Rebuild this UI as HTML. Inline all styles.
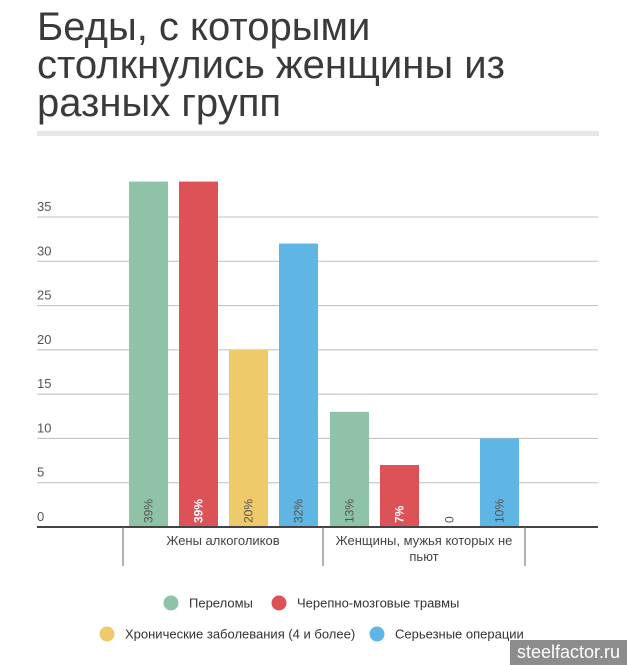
<!DOCTYPE html>
<html><head><meta charset="utf-8"><style>
body{margin:0;background:#fff;font-family:"Liberation Sans",sans-serif;}
#wrap{position:relative;width:627px;height:665px;overflow:hidden;}
h1{position:absolute;left:37px;top:8px;margin:0;font-weight:normal;font-size:40px;line-height:38px;color:#3a3a3a;width:590px;white-space:nowrap;}
#rule{position:absolute;left:37px;top:131px;width:562px;height:5px;background:#e6e6e6;}
#wm{position:absolute;left:510px;top:640px;width:117px;height:25px;background:#8c8c8c;color:#fff;font-size:18px;line-height:25px;text-align:center;}
</style></head><body>
<div id="wrap">
<h1>Беды, с которыми<br>столкнулись женщины из<br>разных групп</h1>
<div id="rule"></div>
<svg id="svg" width="627" height="665" style="position:absolute;left:0;top:0"></svg>
<div id="wm">steelfactor.ru</div>
</div>
<script>
const categories=["Жены алкоголиков","Женщины, мужья которых не|пьют"];
const seriesNames=["Переломы","Черепно-мозговые травмы","Хронические заболевания (4 и более)","Серьезные операции"];
const seriesColors=["#8fc3a8","#dc5257","#eeca6a","#5fb5e3"];
const valuesPerelomy=[39,13];
const valuesTravmy=[39,7];
const valuesHron=[20,0];
const valuesOper=[32,10];
const yTicks=[0,5,10,15,20,25,30,35];
const series=[valuesPerelomy,valuesTravmy,valuesHron,valuesOper];
const NS="http://www.w3.org/2000/svg";
const svg=document.getElementById('svg');
const y0=527,pxPerUnit=8.857;
function y(v){return y0-v*pxPerUnit;}
function groupX(g){return 129+g*201;}
function mk(tag,attrs,txt){const e=document.createElementNS(NS,tag);for(const k in attrs)e.setAttribute(k,attrs[k]);if(txt!==undefined)e.textContent=txt;svg.appendChild(e);return e;}
yTicks.forEach(t=>{
 if(t>0){const l=mk('line',{x1:37,x2:598,y1:y(t),y2:y(t),stroke:'#bdbdbd','stroke-width':1});
 
 }
 const tx=mk('text',{x:37,y:y(t)-6,'font-size':13,fill:'#555'},String(t));
 
 
});
series.forEach((vals,s)=>{vals.forEach((v,g)=>{
 const x=groupX(g)+s*50;
 if(v>0){const r=mk('rect',{x:x,y:y(v),width:39,height:y0-y(v),fill:seriesColors[s]});
 
 }
 const lab=v>0?v+'%':'0';
 const cx=x+19.5,cy=y0-4;
 const t=mk('text',{x:cx+4,y:cy,'font-size':12,fill:s===1?'#fff':'#555','font-weight':s===1?'bold':'normal',transform:'rotate(-90 '+(cx+4)+' '+cy+')'},lab);
 
 
});});
const ax=mk('line',{x1:37,x2:598,y1:y0,y2:y0,stroke:'#444','stroke-width':2});


[123,323,525].forEach(xx=>{const l=mk('line',{x1:xx,x2:xx,y1:y0,y2:566,stroke:'#666','stroke-width':1});
 
 });
categories.forEach((c,i)=>{const cx=223+i*201;c.split('|').forEach((ln,j)=>{
 const t=mk('text',{x:cx,y:545+j*16,'font-size':13,fill:'#444','text-anchor':'middle'},ln);
 
 });});
const legPos=[[171,603],[279,603],[107,634],[377,634]];
seriesNames.forEach((n,i)=>{const [lx,ly]=legPos[i];
 const c=mk('circle',{cx:lx,cy:ly,r:7.5,fill:seriesColors[i]});
 
 
 const t=mk('text',{x:lx+18,y:ly+4.5,'font-size':13,fill:'#333'},n);
 
 });
</script>
</body></html>
